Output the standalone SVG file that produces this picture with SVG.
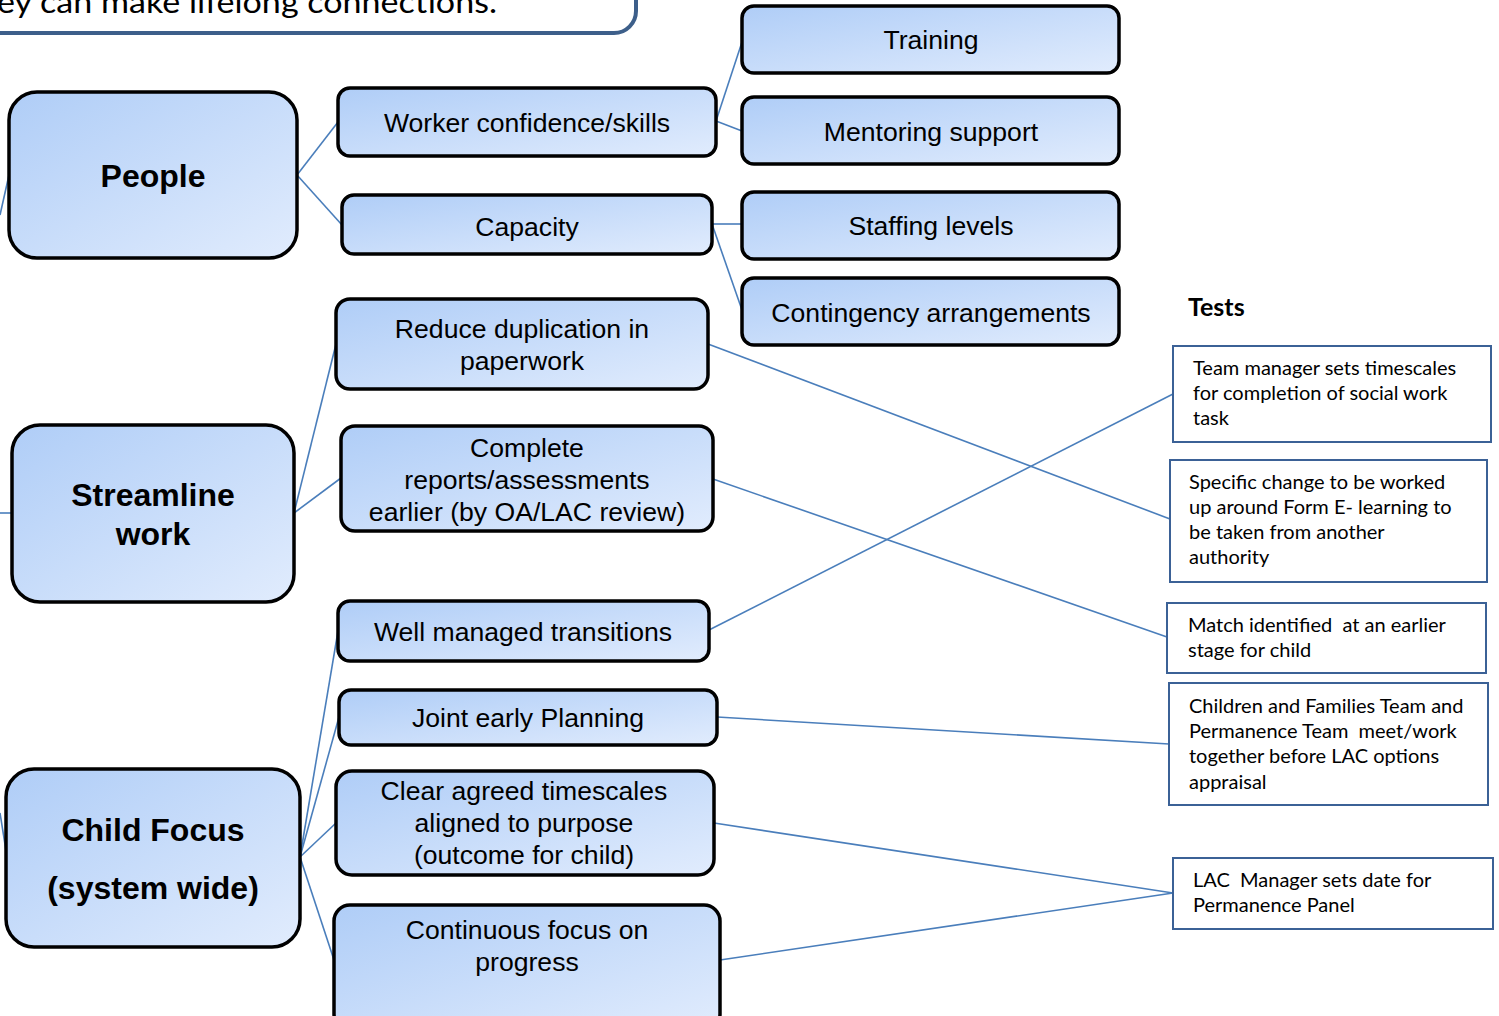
<svg xmlns="http://www.w3.org/2000/svg" width="1499" height="1016" viewBox="0 0 1499 1016">
<defs>
<linearGradient id="g" x1="0" y1="0" x2="1" y2="1">
<stop offset="0" stop-color="#afcdf7"/>
<stop offset="1" stop-color="#e1ecfd"/>
</linearGradient>
<style>
.n{fill:url(#g);stroke:#000;stroke-width:3.5}
.t{font-family:"Liberation Sans",Arial,sans-serif;font-size:26.6px;fill:#000;text-anchor:middle}
.b{font-family:"Liberation Sans",Arial,sans-serif;font-size:32px;font-weight:bold;fill:#000;text-anchor:middle}
.tb{fill:#fff;stroke:#3b6196;stroke-width:2}
.tt{font-family:Lato,Carlito,"Open Sans",sans-serif;font-size:20px;fill:#000}
.c{stroke:#4a7ebb;stroke-width:1.6;fill:none}
</style>
</defs>
<rect x="0" y="0" width="1499" height="1016" fill="#fff"/>

<g id="intro">
<rect x="-40" y="-60" width="676" height="93" rx="22" fill="#fff" stroke="#3d5f8a" stroke-width="4"/>
<text x="-3" y="13" font-family="Lato,Carlito,sans-serif" font-size="31" textLength="500" lengthAdjust="spacingAndGlyphs">ey can make lifelong connections.</text>
</g>

<g id="connectors">
<line class="c" x1="0" y1="215" x2="9" y2="175"/>
<line class="c" x1="0" y1="513" x2="12" y2="513"/>
<line class="c" x1="0" y1="813" x2="7" y2="857"/>
<line class="c" x1="297" y1="175" x2="338" y2="122"/>
<line class="c" x1="297" y1="175" x2="342" y2="225"/>
<line class="c" x1="716" y1="121" x2="743" y2="39"/>
<line class="c" x1="716" y1="121" x2="742" y2="131"/>
<line class="c" x1="712" y1="224" x2="742" y2="224"/>
<line class="c" x1="712" y1="224" x2="742" y2="310"/>
<line class="c" x1="294" y1="513" x2="336" y2="344"/>
<line class="c" x1="294" y1="513" x2="341" y2="478"/>
<line class="c" x1="300" y1="857" x2="338" y2="631"/>
<line class="c" x1="300" y1="857" x2="339" y2="717"/>
<line class="c" x1="300" y1="857" x2="336" y2="823"/>
<line class="c" x1="300" y1="857" x2="334" y2="960"/>
<line class="c" x1="708" y1="344" x2="1170" y2="519"/>
<line class="c" x1="713" y1="479" x2="1167" y2="637"/>
<line class="c" x1="709" y1="630" x2="1173" y2="394"/>
<line class="c" x1="717" y1="717" x2="1169" y2="744"/>
<line class="c" x1="714" y1="823" x2="1173" y2="893"/>
<line class="c" x1="720" y1="960" x2="1173" y2="893"/>
</g>

<g id="people">
<rect class="n" x="9" y="92" width="288" height="166" rx="28"/>
<text class="b" x="153" y="187">People</text>
</g>
<g id="streamline">
<rect class="n" x="12" y="425" width="282" height="177" rx="28"/>
<text class="b" x="153" y="506">Streamline</text>
<text class="b" x="153" y="545">work</text>
</g>
<g id="childfocus">
<rect class="n" x="6" y="769" width="294" height="178" rx="28"/>
<text class="b" x="153" y="841">Child Focus</text>
<text class="b" x="153" y="899">(system wide)</text>
</g>

<g id="worker">
<rect class="n" x="338" y="88" width="378" height="68" rx="12"/>
<text class="t" x="527" y="132">Worker confidence/skills</text>
</g>
<g id="capacity">
<rect class="n" x="342" y="195" width="370" height="59" rx="12"/>
<text class="t" x="527" y="236">Capacity</text>
</g>
<g id="training">
<rect class="n" x="742" y="6" width="377" height="67" rx="12"/>
<text class="t" x="931" y="49">Training</text>
</g>
<g id="mentoring">
<rect class="n" x="742" y="97" width="377" height="67" rx="12"/>
<text class="t" x="931" y="141">Mentoring support</text>
</g>
<g id="staffing">
<rect class="n" x="742" y="192" width="377" height="67" rx="12"/>
<text class="t" x="931" y="235">Staffing levels</text>
</g>
<g id="contingency">
<rect class="n" x="742" y="278" width="377" height="67" rx="12"/>
<text class="t" x="931" y="322">Contingency arrangements</text>
</g>
<g id="reduce">
<rect class="n" x="336" y="299" width="372" height="90" rx="14"/>
<text class="t" x="522" y="338">Reduce duplication in</text>
<text class="t" x="522" y="370">paperwork</text>
</g>
<g id="complete">
<rect class="n" x="341" y="426" width="372" height="105" rx="14"/>
<text class="t" x="527" y="457">Complete</text>
<text class="t" x="527" y="489">reports/assessments</text>
<text class="t" x="527" y="521">earlier (by OA/LAC review)</text>
</g>
<g id="transitions">
<rect class="n" x="338" y="601" width="371" height="60" rx="12"/>
<text class="t" x="523" y="641">Well managed transitions</text>
</g>
<g id="joint">
<rect class="n" x="339" y="690" width="378" height="55" rx="12"/>
<text class="t" x="528" y="727">Joint early Planning</text>
</g>
<g id="clear">
<rect class="n" x="336" y="771" width="378" height="104" rx="16"/>
<text class="t" x="524" y="800">Clear agreed timescales</text>
<text class="t" x="524" y="832">aligned to purpose</text>
<text class="t" x="524" y="864">(outcome for child)</text>
</g>
<g id="continuous">
<rect class="n" x="334" y="905" width="386" height="125" rx="16"/>
<text class="t" x="527" y="939">Continuous focus on</text>
<text class="t" x="527" y="971">progress</text>
</g>

<g id="tests">
<text x="1188" y="316" font-family="Lato,Carlito,sans-serif" font-size="25" font-weight="bold">Tests</text>
</g>
<g id="test1">
<rect class="tb" x="1173" y="346" width="318" height="96"/>
<text class="tt" x="1193" y="375">Team manager sets timescales</text>
<text class="tt" x="1193" y="400">for completion of social work</text>
<text class="tt" x="1193" y="425">task</text>
</g>
<g id="test2">
<rect class="tb" x="1170" y="460" width="317" height="122"/>
<text class="tt" x="1189" y="489">Specific change to be worked</text>
<text class="tt" x="1189" y="514">up around Form E- learning to</text>
<text class="tt" x="1189" y="539">be taken from another</text>
<text class="tt" x="1189" y="564">authority</text>
</g>
<g id="test3">
<rect class="tb" x="1167" y="603" width="319" height="70"/>
<text class="tt" x="1188" y="632" xml:space="preserve">Match identified  at an earlier</text>
<text class="tt" x="1188" y="657">stage for child</text>
</g>
<g id="test4">
<rect class="tb" x="1169" y="683" width="319" height="122"/>
<text class="tt" x="1189" y="713">Children and Families Team and</text>
<text class="tt" x="1189" y="738" xml:space="preserve">Permanence Team  meet/work</text>
<text class="tt" x="1189" y="763">together before LAC options</text>
<text class="tt" x="1189" y="789">appraisal</text>
</g>
<g id="test5">
<rect class="tb" x="1173" y="858" width="320" height="71"/>
<text class="tt" x="1193" y="887" xml:space="preserve">LAC  Manager sets date for</text>
<text class="tt" x="1193" y="912">Permanence Panel</text>
</g>
</svg>
